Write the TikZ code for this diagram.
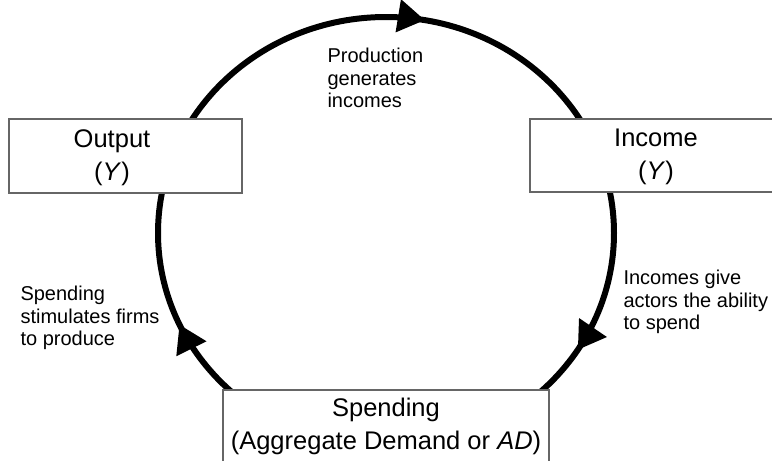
\documentclass[tikz,border=0pt]{standalone}
\usepackage{fontspec}
\setmainfont{Liberation Sans}
\usetikzlibrary{arrows.meta,decorations.markings}

\tikzset{
  flow/.style={line width=6pt, black,
    postaction={decorate, decoration={markings,
      mark=at position 0.089 with {\arrow{Triangle[length=27pt,width=32pt]}},
      mark=at position 0.432 with {\arrow{Triangle[length=27pt,width=32pt]}},
      mark=at position 0.778 with {\arrow{Triangle[length=27pt,width=32pt]}}}}},
  sector/.style={draw=black!60, line width=2pt, fill=white, inner sep=0pt},
  boxtext/.style={align=center, font=\fontsize{25.5}{33}\selectfont},
  note/.style={align=left, anchor=west, font=\fontsize{20}{22.5}\selectfont}
}

\begin{document}
\begin{tikzpicture}[x=1pt,y=1pt]
\useasboundingbox (0,0) rectangle (772,-461);

% the circular flow
\coordinate (c) at (386,-233);
\draw[flow] ([xshift=228pt]c) arc[start angle=0, end angle=-360, x radius=228, y radius=216];

% boxes
\node[sector, minimum width=233pt, minimum height=74pt] (output) at (125.5,-156) {};
\node[boxtext] at (112,-158) {Output\\(\textit{Y})};
\node[sector, minimum width=252pt, minimum height=73pt] (income) at (656,-155.5) {};
\node[boxtext] at (656,-157) {Income\\(\textit{Y})};
\node[sector, minimum width=326pt, minimum height=84pt] (spending) at (386,-432) {};
\node[boxtext] at (386,-426) {Spending\\(Aggregate Demand or \textit{AD})};

% labels along the flow
\node[note] (prod) at (324,-78) {Production\\generates\\incomes};
\node[note] (inc) at (620,-302) {Incomes give\\actors the ability\\to spend};
\node[note] (spend) at (17,-318) {Spending\\stimulates firms\\to produce};
\end{tikzpicture}
\end{document}
